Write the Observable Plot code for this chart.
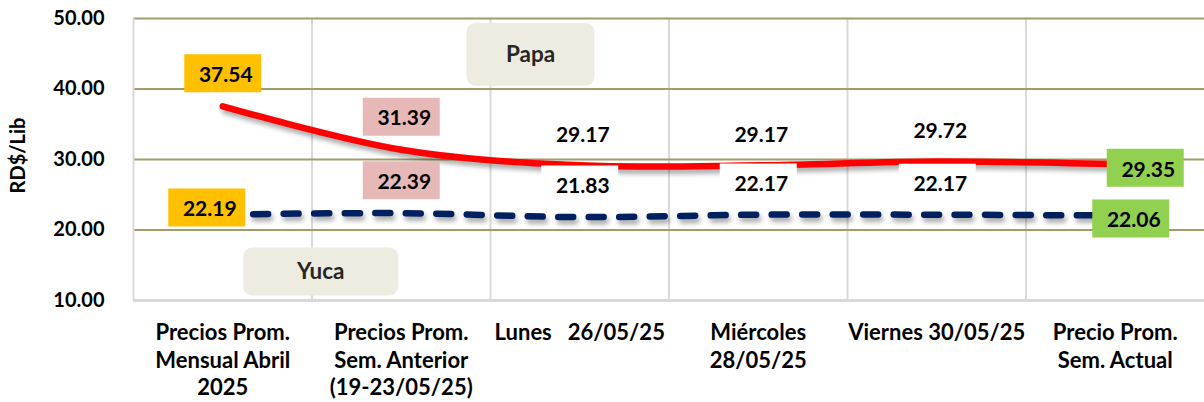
<!DOCTYPE html>
<html>
<head>
<meta charset="utf-8">
<script src="https://cdn.jsdelivr.net/npm/d3@7"></script>
<script src="https://cdn.jsdelivr.net/npm/@observablehq/plot@0.6"></script>
<style>
  html, body { margin: 0; padding: 0; background: #fff; }
  #chart { width: 1204px; height: 402px; overflow: hidden; }
</style>
</head>
<body>
<div id="chart"></div>
<script>
// ---- data ----
const categories = [
  "Precios Prom.\nMensual Abril\n2025",
  "Precios Prom.\nSem. Anterior\n(19-23/05/25)",
  "Lunes\u00a0\u00a0\u00a026/05/25",
  "Miércoles\n28/05/25",
  "Viernes 30/05/25",
  "Precio Prom.\nSem. Actual"
];
const papa = [37.54, 31.39, 29.17, 29.17, 29.72, 29.35];
const yuca = [22.19, 22.39, 21.83, 22.17, 22.17, 22.06];
const yTicks = [10, 20, 30, 40, 50];
const seriesNames = ["Papa", "Yuca"];

// ---- styles (offsets in px, colours) ----
const ORANGE = "#FFC000", PINK = "#E6B8B7", GREEN = "#92D050", WHITE = "#FFFFFF";
const labelStyle = {
  Papa: {
    offsets: [[3, -31], [3, -31], [3, -30.5], [3, -30.5], [3.5, -30.5], [33, 5.7]],
    bg: [ORANGE, PINK, null, null, null, GREEN]
  },
  Yuca: {
    offsets: [[-13, -5], [3, -31], [3, -30.6], [3, -30.2], [3.5, -30], [18.5, 5]],
    bg: [ORANGE, PINK, WHITE, WHITE, WHITE, GREEN]
  }
};
const legendStyle = {
  Papa: {dx: 397, dy: 35.8, w: 128, h: 63},
  Yuca: {dx: 187.2, dy: 253, w: 155, h: 48}
};

const rows = {
  Papa: papa.map((v, i) => ({i, v})),
  Yuca: yuca.map((v, i) => ({i, v}))
};

function rectSymbol(w, h) {
  return {draw(ctx) { ctx.rect(-w / 2, -h / 2, w, h); }};
}
function roundRectSymbol(w, h, r) {
  return {draw(ctx) {
    const x0 = -w / 2, y0 = -h / 2, x1 = w / 2, y1 = h / 2;
    ctx.moveTo(x0 + r, y0);
    ctx.lineTo(x1 - r, y0);
    ctx.arcTo(x1, y0, x1, y0 + r, r);
    ctx.lineTo(x1, y1 - r);
    ctx.arcTo(x1, y1, x1 - r, y1, r);
    ctx.lineTo(x0 + r, y1);
    ctx.arcTo(x0, y1, x0, y1 - r, r);
    ctx.lineTo(x0, y0 + r);
    ctx.arcTo(x0, y0, x0 + r, y0, r);
    ctx.closePath();
  }};
}

const fmt = d3.format(".2f");
const idx = d3.range(categories.length);
const boundaries = idx.slice(1).map(i => i - 0.5);

const labelMarks = [];
for (const s of seriesNames) {
  const st = labelStyle[s];
  rows[s].forEach((d, k) => {
    const [dx, dy] = st.offsets[k];
    if (st.bg[k]) {
      labelMarks.push(Plot.dot([d], {
        x: "i", y: "v", dx: dx - 3, dy: dy - 2,
        symbol: rectSymbol(77, 38), fill: st.bg[k]
      }));
    }
    labelMarks.push(Plot.text([d], {
      x: "i", y: "v", dx, dy, text: r => fmt(r.v),
      fill: "#000", fontSize: 21, fontWeight: "bold"
    }));
  });
}

const legendMarks = [];
for (const s of seriesNames) {
  const L = legendStyle[s];
  legendMarks.push(Plot.dot([s], {
    frameAnchor: "top-left", dx: L.dx, dy: L.dy,
    symbol: roundRectSymbol(L.w, L.h, 9), fill: "#EEECE1"
  }));
  legendMarks.push(Plot.text([s], {
    frameAnchor: "top-left", dx: L.dx, dy: L.dy, text: d => d,
    textAnchor: "middle", lineAnchor: "middle",
    fill: "#262626", fontSize: 22.5, fontWeight: "bold"
  }));
}

const chart = Plot.plot({
  width: 1204,
  height: 402,
  marginLeft: 133,
  marginRight: 0,
  marginTop: 18,
  marginBottom: 102,
  style: {fontFamily: "Lato, 'Open Sans', sans-serif", fontWeight: "bold", fontSize: "20px", color: "#000", background: "#fff"},
  x: {type: "linear", domain: [-0.5, categories.length - 0.5]},
  y: {domain: [10, 50]},
  marks: [
    Plot.ruleX(boundaries, {stroke: "#D9D9D9", strokeWidth: 2}),
    Plot.ruleY(yTicks.slice(1), {stroke: "#A39B6C", strokeWidth: 2}),
    Plot.ruleY(yTicks.slice(0, 1), {stroke: "#D9D9D9", strokeWidth: 3}),
    Plot.ruleX([-0.5], {stroke: "#D9D9D9", strokeWidth: 2}),
    Plot.axisY({ticks: yTicks, tickFormat: fmt, tickSize: 0, tickPadding: 29, fontSize: 20, label: null, fill: "#000"}),
    Plot.axisX({ticks: idx, tickFormat: i => categories[i], tickSize: 0, tickPadding: 20, fontSize: 22, lineHeight: 1.25, label: null, fill: "#000"}),
    Plot.text(["RD$/Lib"], {frameAnchor: "left", dx: -115, dy: -4, rotate: -90, text: d => d, fontSize: 20, fontWeight: "bold", fill: "#000", textAnchor: "middle"}),
    ...legendMarks,
    Plot.line(rows.Yuca, {x: "i", y: "v", stroke: "#002060", strokeWidth: 6.5, strokeDasharray: "15,15.5", strokeLinecap: "round", curve: "catmull-rom"}),
    Plot.line(rows.Papa, {x: "i", y: "v", stroke: "#FF0000", strokeWidth: 6.5, strokeLinecap: "round", curve: "catmull-rom"}),
    ...labelMarks
  ]
});

d3.select(chart).selectAll('g[aria-label="line"]')
  .style("filter", "drop-shadow(2px 4px 2.5px rgba(0,0,0,0.35))");

document.getElementById("chart").appendChild(chart);
</script>
</body>
</html>
